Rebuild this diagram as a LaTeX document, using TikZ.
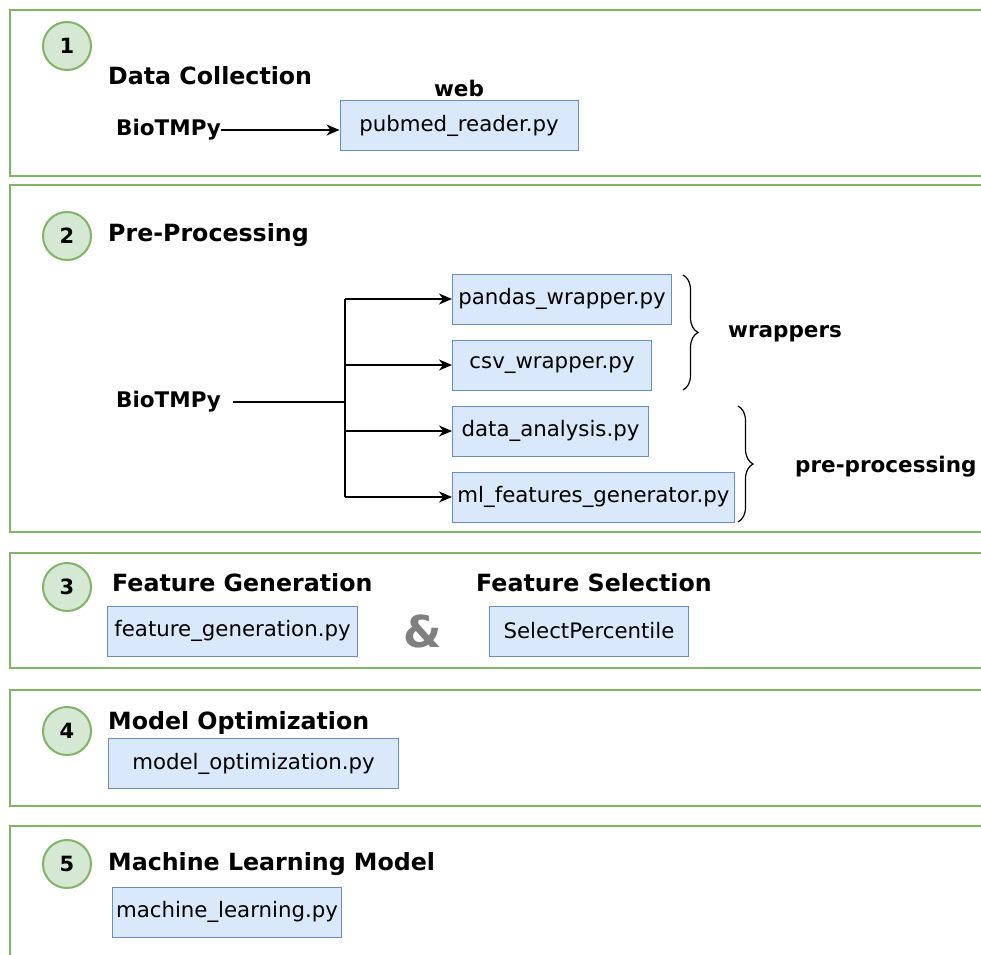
\documentclass[tikz,border=0pt]{standalone}
\usepackage{fontspec}
\setmainfont{DejaVu Sans}
\usetikzlibrary{arrows.meta,decorations.pathreplacing}
\definecolor{panelgreen}{HTML}{82B366}
\definecolor{stepfill}{HTML}{D5E8D4}
\definecolor{pyfill}{HTML}{DAE8FC}
\definecolor{pyline}{HTML}{6C8EBF}
\tikzset{
  panel/.style={draw=panelgreen, line width=1.3pt, fill=white},
  stepnum/.style={circle, draw=panelgreen, fill=stepfill, line width=2pt,
    minimum size=48pt, inner sep=0pt, font=\fontsize{21}{21}\selectfont\bfseries},
  title/.style={anchor=west, inner sep=0pt, font=\fontsize{23.7}{23.7}\selectfont\bfseries},
  lbl/.style={inner sep=0pt, font=\fontsize{21.5}{21.5}\selectfont\bfseries},
  pybox/.style={draw=pyline, fill=pyfill, line width=1pt, inner sep=0pt,
    minimum height=50pt, font=\fontsize{21.3}{21.3}\selectfont},
  flow/.style={-{Stealth[length=13pt,width=11pt,inset=4pt]}, line width=1.4pt},
  grp/.style={decorate, decoration={brace, amplitude=15pt}, line width=1.2pt}
}
\begin{document}
\begin{tikzpicture}[x=1pt,y=-1pt]
\useasboundingbox (0,0) rectangle (981,954);
\fill[white] (0,0) rectangle (981,954);
\clip (0,0) rectangle (981,954);

% panels (open on the right and at the bottom)
\draw[panel] (10,10) rectangle (1000,176);
\draw[panel] (10,185) rectangle (1000,532);
\draw[panel] (10,553) rectangle (1000,668);
\draw[panel] (10,690) rectangle (1000,806);
\draw[panel] (10,826) rectangle (1000,980);

% 1 - data collection
\node[stepnum] (s1) at (67,46) {1};
\node[title] (t1) at (108,76) {Data Collection};
\node[lbl] (web) at (459,88) {web};
\node[lbl, anchor=west] (bio1) at (116,130) {BioTMPy};
\node[pybox, minimum width=238pt] (pubmed) at (459,125.5) {pubmed\_reader.py};
\draw[flow] (bio1.east) -- (pubmed.west |- bio1.east);

% 2 - pre-processing
\node[stepnum] (s2) at (67,236) {2};
\node[title] (t2) at (108,235) {Pre-Processing};
\node[lbl, anchor=west] (bio2) at (116,402) {BioTMPy};
\node[pybox, minimum width=219pt, anchor=west] (pandas) at (452,299) {pandas\_wrapper.py};
\node[pybox, minimum width=199pt, anchor=west] (csv) at (452,365) {csv\_wrapper.py};
\node[pybox, minimum width=196pt, anchor=west] (analysis) at (452,431) {data\_analysis.py};
\node[pybox, minimum width=282pt, anchor=west] (mlfeat) at (452,497) {ml\_features\_generator.py};
\coordinate (fork) at (345,402);
\coordinate (forktop) at (345,299);
\coordinate (forkbot) at (345,497);
\draw[line width=1.4pt] ([xshift=12pt]bio2.east) -- (fork);
\draw[line width=1.4pt] (forktop) -- (forkbot);
\draw[flow] (forktop) -- (pandas.west);
\draw[flow] (fork |- csv.west) -- (csv.west);
\draw[flow] (fork |- analysis.west) -- (analysis.west);
\draw[flow] (forkbot) -- (mlfeat.west);
\coordinate (b1top) at (683,275);
\coordinate (b1bot) at (683,390);
\draw[grp] (b1top) -- (b1bot);
\node[lbl, anchor=west] (wrap) at (728,334) {wrappers};
\coordinate (b2top) at (738,406);
\coordinate (b2bot) at (738,522);
\draw[grp] (b2top) -- (b2bot);
\node[lbl, anchor=west] (prep) at (795,467) {pre-processing};

% 3 - feature generation & selection
\node[stepnum] (s3) at (67,587) {3};
\node[title] (t3) at (112,583) {Feature Generation};
\node[pybox, minimum width=250pt, anchor=west] (fgen) at (107,631) {feature\_generation.py};
\node[inner sep=0pt, text=gray, font=\fontsize{44}{44}\selectfont\bfseries] (amp) at (423,631) {\&};
\node[title] (t3b) at (476,583) {Feature Selection};
\node[pybox, minimum width=199pt, anchor=west] (selp) at (489,631) {SelectPercentile};

% 4 - model optimization
\node[stepnum] (s4) at (67,731) {4};
\node[title] (t4) at (108,723) {Model Optimization};
\node[pybox, minimum width=290pt, anchor=west] (mopt) at (108,763.5) {model\_optimization.py};

% 5 - machine learning model
\node[stepnum] (s5) at (67,864) {5};
\node[title] (t5) at (108,864) {Machine Learning Model};
\node[pybox, minimum width=229pt, anchor=west] (mlearn) at (112,912) {machine\_learning.py};
\end{tikzpicture}
\end{document}
